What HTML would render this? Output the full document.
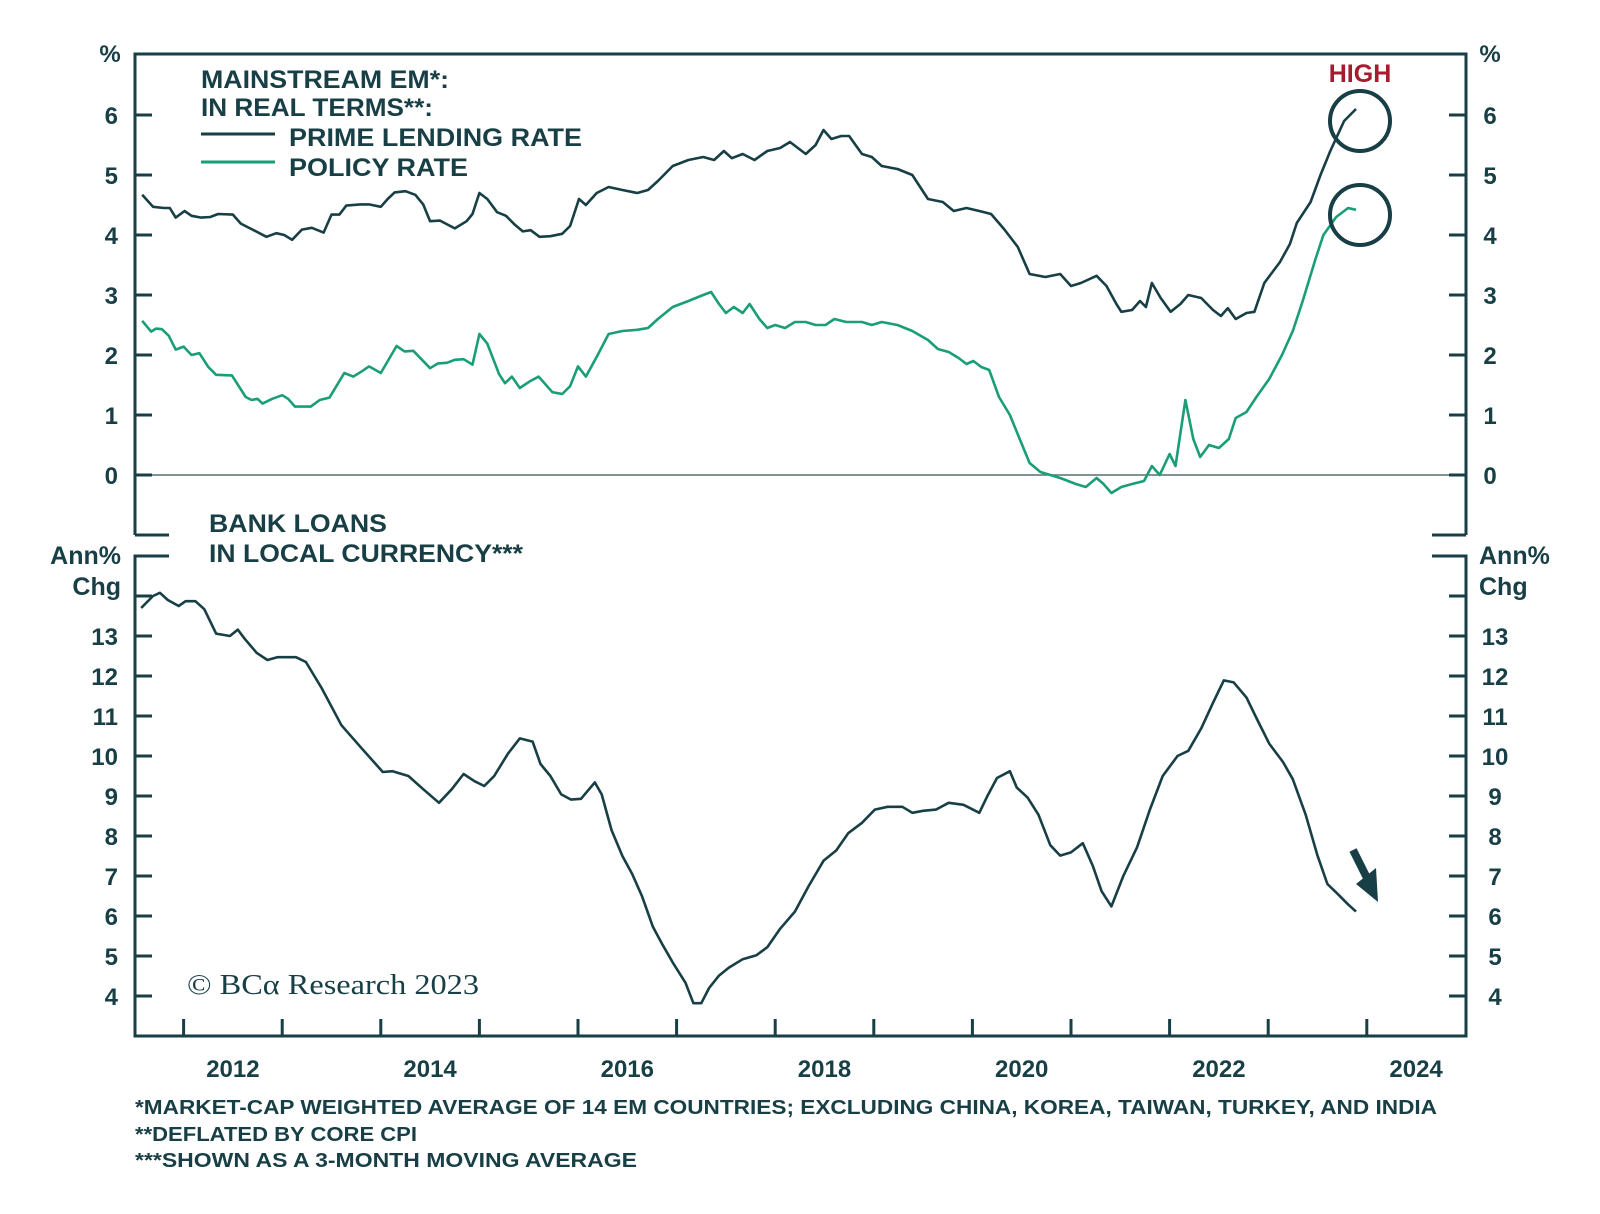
<!DOCTYPE html>
<html><head><meta charset="utf-8"><style>
body{margin:0;background:#fff}
svg{display:block;font-family:"Liberation Sans",Arial,sans-serif}
.t{font-weight:bold;fill:#173f45}
</style></head><body>
<svg id="c" width="1600" height="1214" viewBox="0 0 1600 1214"></svg>
<script>
const primeYears=[2011.58,2011.69,2011.8,2011.86,2011.92,2012.01,2012.08,2012.18,2012.27,2012.35,2012.5,2012.58,2012.7,2012.84,2012.94,2013.02,2013.1,2013.2,2013.3,2013.42,2013.5,2013.58,2013.65,2013.79,2013.88,2014.0,2014.07,2014.14,2014.25,2014.35,2014.43,2014.5,2014.6,2014.75,2014.87,2014.93,2015.0,2015.08,2015.18,2015.27,2015.36,2015.44,2015.52,2015.61,2015.72,2015.84,2015.92,2016.01,2016.08,2016.19,2016.31,2016.45,2016.6,2016.71,2016.81,2016.96,2017.12,2017.27,2017.38,2017.48,2017.56,2017.67,2017.79,2017.92,2018.05,2018.15,2018.31,2018.41,2018.49,2018.57,2018.67,2018.75,2018.88,2018.98,2019.08,2019.24,2019.39,2019.55,2019.7,2019.81,2019.94,2020.07,2020.19,2020.32,2020.46,2020.58,2020.74,2020.89,2021.0,2021.1,2021.26,2021.36,2021.46,2021.51,2021.62,2021.7,2021.76,2021.82,2021.91,2022.01,2022.11,2022.19,2022.32,2022.44,2022.52,2022.59,2022.67,2022.78,2022.86,2022.96,2023.12,2023.22,2023.29,2023.43,2023.53,2023.63,2023.77,2023.89];
const primeVals=[4.67,4.47,4.45,4.45,4.29,4.4,4.32,4.29,4.3,4.35,4.34,4.19,4.09,3.97,4.03,4.0,3.92,4.09,4.12,4.04,4.34,4.34,4.49,4.51,4.51,4.47,4.6,4.71,4.73,4.67,4.51,4.23,4.24,4.11,4.23,4.35,4.7,4.6,4.38,4.32,4.17,4.06,4.08,3.97,3.98,4.02,4.15,4.6,4.5,4.7,4.8,4.75,4.7,4.75,4.9,5.15,5.25,5.3,5.25,5.4,5.28,5.35,5.25,5.4,5.45,5.55,5.35,5.5,5.75,5.6,5.65,5.65,5.35,5.3,5.15,5.1,5.0,4.6,4.55,4.4,4.45,4.4,4.35,4.1,3.8,3.35,3.3,3.35,3.15,3.2,3.32,3.15,2.85,2.72,2.75,2.9,2.8,3.2,2.95,2.72,2.85,3.0,2.95,2.75,2.65,2.78,2.6,2.7,2.72,3.2,3.55,3.85,4.2,4.55,5.0,5.4,5.9,6.1];
const policyYears=[2011.58,2011.67,2011.72,2011.78,2011.85,2011.92,2012.0,2012.08,2012.16,2012.25,2012.33,2012.49,2012.63,2012.69,2012.75,2012.8,2012.9,2013.0,2013.06,2013.13,2013.29,2013.38,2013.48,2013.63,2013.72,2013.8,2013.88,2014.0,2014.16,2014.24,2014.33,2014.5,2014.58,2014.67,2014.75,2014.84,2014.93,2015.0,2015.08,2015.2,2015.26,2015.33,2015.41,2015.51,2015.6,2015.74,2015.84,2015.92,2016.0,2016.08,2016.2,2016.31,2016.45,2016.6,2016.71,2016.81,2016.96,2017.12,2017.27,2017.35,2017.43,2017.5,2017.58,2017.67,2017.74,2017.84,2017.92,2018.0,2018.1,2018.2,2018.31,2018.41,2018.51,2018.6,2018.72,2018.88,2018.98,2019.08,2019.24,2019.39,2019.55,2019.65,2019.76,2019.86,2019.94,2020.01,2020.09,2020.17,2020.27,2020.38,2020.48,2020.58,2020.69,2020.79,2020.89,2021.05,2021.15,2021.26,2021.33,2021.41,2021.51,2021.62,2021.74,2021.82,2021.9,2022.0,2022.06,2022.16,2022.24,2022.31,2022.4,2022.5,2022.6,2022.67,2022.78,2022.88,2023.01,2023.14,2023.25,2023.35,2023.48,2023.56,2023.69,2023.81,2023.89];
const policyVals=[2.57,2.39,2.44,2.43,2.32,2.09,2.14,2.0,2.03,1.8,1.67,1.66,1.3,1.25,1.27,1.19,1.27,1.33,1.27,1.14,1.14,1.25,1.29,1.7,1.64,1.72,1.81,1.7,2.15,2.06,2.07,1.78,1.86,1.87,1.92,1.93,1.84,2.35,2.19,1.68,1.53,1.64,1.45,1.56,1.64,1.38,1.35,1.48,1.81,1.64,2.0,2.35,2.4,2.42,2.45,2.6,2.8,2.9,3.0,3.05,2.85,2.7,2.8,2.7,2.85,2.6,2.45,2.5,2.45,2.55,2.55,2.5,2.5,2.6,2.55,2.55,2.5,2.55,2.5,2.4,2.25,2.1,2.05,1.95,1.85,1.9,1.8,1.75,1.3,1.0,0.6,0.2,0.05,0.0,-0.05,-0.15,-0.2,-0.05,-0.15,-0.3,-0.2,-0.15,-0.1,0.15,0.0,0.35,0.15,1.25,0.6,0.3,0.5,0.45,0.6,0.95,1.05,1.3,1.6,2.0,2.4,2.9,3.6,4.0,4.3,4.45,4.42];
const loanYears=[2011.57,2011.69,2011.76,2011.84,2011.95,2012.02,2012.12,2012.21,2012.33,2012.47,2012.55,2012.62,2012.74,2012.85,2012.95,2013.14,2013.24,2013.4,2013.6,2013.81,2014.02,2014.12,2014.28,2014.43,2014.59,2014.72,2014.84,2014.95,2015.05,2015.15,2015.29,2015.41,2015.54,2015.62,2015.72,2015.83,2015.93,2016.03,2016.17,2016.24,2016.34,2016.45,2016.55,2016.65,2016.76,2016.86,2016.96,2017.09,2017.17,2017.25,2017.33,2017.43,2017.53,2017.67,2017.81,2017.92,2018.05,2018.2,2018.34,2018.49,2018.62,2018.74,2018.88,2019.01,2019.14,2019.29,2019.39,2019.5,2019.63,2019.76,2019.91,2020.07,2020.15,2020.25,2020.38,2020.45,2020.56,2020.67,2020.79,2020.89,2021.0,2021.12,2021.22,2021.31,2021.41,2021.53,2021.67,2021.8,2021.93,2022.08,2022.19,2022.32,2022.44,2022.55,2022.65,2022.78,2022.88,2023.01,2023.15,2023.25,2023.38,2023.5,2023.6,2023.71,2023.81,2023.89];
const loanVals=[13.7,14.0,14.08,13.9,13.75,13.87,13.87,13.67,13.06,13.0,13.16,12.93,12.58,12.4,12.47,12.47,12.35,11.7,10.77,10.18,9.6,9.62,9.5,9.17,8.83,9.17,9.55,9.37,9.25,9.5,10.06,10.44,10.36,9.8,9.5,9.04,8.91,8.93,9.34,9.04,8.15,7.5,7.05,6.49,5.73,5.27,4.84,4.33,3.82,3.82,4.2,4.51,4.71,4.92,5.02,5.22,5.68,6.11,6.75,7.38,7.64,8.07,8.33,8.66,8.73,8.73,8.58,8.63,8.66,8.83,8.78,8.58,8.99,9.45,9.62,9.21,8.96,8.53,7.77,7.51,7.59,7.82,7.26,6.62,6.24,7.0,7.72,8.66,9.5,10.0,10.13,10.69,11.33,11.89,11.84,11.46,10.95,10.31,9.85,9.42,8.53,7.51,6.8,6.54,6.29,6.11];
const topTicks=[0,1,2,3,4,5,6];
const botTicks=[4,5,6,7,8,9,10,11,12,13];
const yearLabels=[2012,2014,2016,2018,2020,2022,2024];

const svg=document.getElementById('c');
const NS='http://www.w3.org/2000/svg';
const DARK='#173f45',GREEN='#1a9e76';
const L=135,R=1466,TOP=54,BOT=1036;
const X=t=>183.6+(t-2012)*98.6;
const Y1=v=>475-v*60;
const Y2=v=>996-(v-4)*40;
function mk(tag,attrs,parent){const e=document.createElementNS(NS,tag);for(const k in attrs)e.setAttribute(k,attrs[k]);(parent||svg).appendChild(e);return e;}
function txt(s,x,y,size,anchor,parent,fill,extra){const e=mk('text',Object.assign({x:x,y:y,'font-size':size,'text-anchor':anchor||'start',class:'t'},extra||{}),parent);if(fill)e.setAttribute('fill',fill);e.textContent=s;return e;}

// axes frame
const axes=mk('g',{});


const ls={stroke:DARK,'stroke-width':3,fill:'none'};
mk('path',Object.assign({d:`M${L},535 L${L},${TOP} L${R},${TOP} L${R},535`},ls),axes);
mk('path',Object.assign({d:`M${L+34},535 L${L},535 M${R-34},535 L${R},535`},ls),axes);
mk('path',Object.assign({d:`M${L+34},556 L${L},556 L${L},${BOT} L${R},${BOT} L${R},556 L${R-34},556`},ls),axes);
mk('line',{x1:L,x2:R,y1:475,y2:475,stroke:'#5a6e70','stroke-width':1.5},axes);

// top ticks
topTicks.forEach(v=>{
  const y=Y1(v);
  mk('line',{x1:L,x2:L+17,y1:y,y2:y,stroke:DARK,'stroke-width':3},axes);
  mk('line',{x1:R-17,x2:R,y1:y,y2:y,stroke:DARK,'stroke-width':3},axes);
  const a=txt(String(v),118,y+9,24,'end',axes);
  
  
  const b=txt(String(v),1490,y+9,24,'middle',axes);
  
  
});
[14].forEach(v=>{const y=Y2(v);mk('line',{x1:L,x2:L+17,y1:y,y2:y,stroke:DARK,'stroke-width':3},axes);mk('line',{x1:R-17,x2:R,y1:y,y2:y,stroke:DARK,'stroke-width':3},axes);});
botTicks.forEach(v=>{
  const y=Y2(v);
  mk('line',{x1:L,x2:L+17,y1:y,y2:y,stroke:DARK,'stroke-width':3},axes);
  mk('line',{x1:R-17,x2:R,y1:y,y2:y,stroke:DARK,'stroke-width':3},axes);
  const a=txt(String(v),118,y+9,24,'end',axes);
  
  
  const b=txt(String(v),1495,y+9,24,'middle',axes);
  
  
});
for(let yr=2012;yr<=2024;yr++){mk('line',{x1:X(yr),x2:X(yr),y1:BOT,y2:BOT-17,stroke:DARK,'stroke-width':3},axes);}
yearLabels.forEach(yr=>{
  const e=txt(String(yr),X(yr+0.5),1077,24,'middle',axes);
  
  
});

function line(xs,vs,Yf,color,name){
  const d=xs.map((t,i)=>(i?'L':'M')+X(t).toFixed(1)+','+Yf(vs[i]).toFixed(1)).join(' ');
  const p=mk('path',{d:d,fill:'none',stroke:color,'stroke-width':2.6,'stroke-linejoin':'round'});
  
  
}
line(primeYears,primeVals,Y1,DARK,'prime-lending-rate-line');
line(policyYears,policyVals,Y1,GREEN,'policy-rate-line');
line(loanYears,loanVals,Y2,DARK,'bank-loans-line');
</script>
<svg width="1600" height="1214" style="position:absolute;left:0;top:0">
<g font-family="Liberation Sans, Arial, sans-serif" font-weight="bold" fill="#173f45">
<text x="110" y="62" font-size="24" text-anchor="middle">%</text>
<text x="1490" y="62" font-size="24" text-anchor="middle">%</text>
<text x="201" y="88" font-size="25" textLength="248" lengthAdjust="spacingAndGlyphs">MAINSTREAM EM*:</text>
<text x="201" y="116" font-size="25" textLength="232" lengthAdjust="spacingAndGlyphs">IN REAL TERMS**:</text>
<line x1="201" x2="275" y1="134" y2="134" stroke="#173f45" stroke-width="3"/>
<line x1="201" x2="275" y1="162" y2="162" stroke="#1a9e76" stroke-width="3"/>
<text x="289" y="146" font-size="25" textLength="293" lengthAdjust="spacingAndGlyphs">PRIME LENDING RATE</text>
<text x="289" y="176" font-size="25" textLength="179" lengthAdjust="spacingAndGlyphs">POLICY RATE</text>
<text x="209" y="532" font-size="25" textLength="178" lengthAdjust="spacingAndGlyphs">BANK LOANS</text>
<text x="209" y="562" font-size="25" textLength="314" lengthAdjust="spacingAndGlyphs">IN LOCAL CURRENCY***</text>
<text x="121" y="564" font-size="25" text-anchor="end">Ann%</text>
<text x="121" y="595" font-size="25" text-anchor="end">Chg</text>
<text x="1479" y="564" font-size="25">Ann%</text>
<text x="1479" y="595" font-size="25">Chg</text>
<text x="1360" y="82" font-size="25" text-anchor="middle" fill="#a61c2e">HIGH</text>
<text x="135" y="1114" font-size="20" textLength="1302" lengthAdjust="spacingAndGlyphs">*MARKET-CAP WEIGHTED AVERAGE OF 14 EM COUNTRIES; EXCLUDING CHINA, KOREA, TAIWAN, TURKEY, AND INDIA</text>
<text x="135" y="1141" font-size="20" textLength="282" lengthAdjust="spacingAndGlyphs">**DEFLATED BY CORE CPI</text>
<text x="135" y="1167" font-size="20" textLength="502" lengthAdjust="spacingAndGlyphs">***SHOWN AS A 3-MONTH MOVING AVERAGE</text>
</g>
<text x="187" y="994" font-family="Liberation Serif, serif" font-size="29" fill="#173f45" textLength="292" lengthAdjust="spacingAndGlyphs">© BCα Research 2023</text>
<circle cx="1360" cy="121" r="30" fill="none" stroke="#173f45" stroke-width="4"/>
<circle cx="1360" cy="215" r="30" fill="none" stroke="#173f45" stroke-width="4"/>
<g>
<line x1="1353" y1="850" x2="1368" y2="880" stroke="#173f45" stroke-width="8"/>
<polygon points="1356,884 1378,902 1376,868" fill="#173f45"/>
</g>
</svg>
</body></html>
